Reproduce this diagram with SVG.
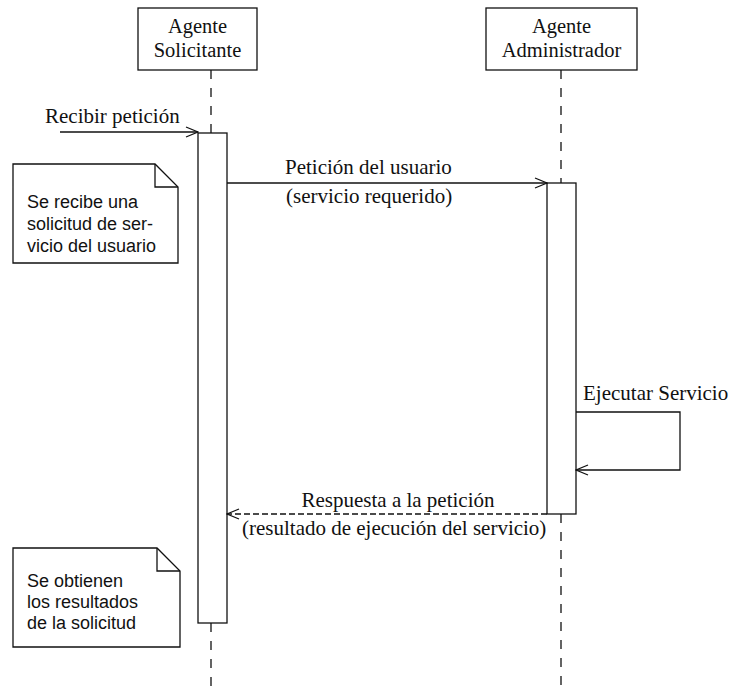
<svg xmlns="http://www.w3.org/2000/svg" width="731" height="689" viewBox="0 0 731 689">
  <style>
    .box { fill: #ffffff; stroke: #111111; stroke-width: 1.3; }
    .life { fill: none; stroke: #111111; stroke-width: 1.3; stroke-dasharray: 9 9; }
    .msg { fill: none; stroke: #111111; stroke-width: 1.3; }
    .reply { fill: none; stroke: #111111; stroke-width: 1.3; stroke-dasharray: 6 3; }
    .serif { font-family: "Liberation Serif", "Times New Roman", serif; font-size: 20.5px; fill: #111111; }
    .label { font-family: "Liberation Serif", "Times New Roman", serif; font-size: 21px; fill: #111111; }
    .sans { font-family: "Liberation Sans", Arial, sans-serif; font-size: 18px; fill: #111111; }
  </style>
  <defs>
    <marker id="open" markerWidth="14" markerHeight="12" refX="13" refY="6" orient="auto" markerUnits="userSpaceOnUse">
      <path d="M1,1 L13,6 L1,11" fill="none" stroke="#111111" stroke-width="1.3"/>
    </marker>
  </defs>

  <!-- lifelines -->
  <g id="lifelines">
    <path class="life" d="M211,70 V133 M211,623 V689"/>
    <path class="life" d="M561,70 V183 M561,514 V689"/>
  </g>

  <g id="agente-solicitante">
    <rect class="box" x="138" y="8" width="119" height="62"/>
    <text class="serif" x="197.5" y="33" text-anchor="middle">Agente</text>
    <text class="serif" x="197.5" y="57" text-anchor="middle">Solicitante</text>
  </g>

  <g id="agente-administrador">
    <rect class="box" x="486" y="8" width="151" height="62"/>
    <text class="serif" x="561.5" y="33" text-anchor="middle">Agente</text>
    <text class="serif" x="561.5" y="57" text-anchor="middle">Administrador</text>
  </g>

  <g id="activacion-solicitante">
    <rect class="box" x="198" y="133" width="29" height="490"/>
  </g>

  <g id="activacion-administrador">
    <rect class="box" x="547" y="183" width="29" height="331"/>
  </g>

  <g id="nota-recibe">
    <path class="box" d="M13,164 H155 L178,187 V263 H13 Z"/>
    <path class="msg" d="M155,164 V187 H178"/>
    <text class="sans" x="27" y="208">Se recibe una</text>
    <text class="sans" x="27" y="230">solicitud de ser-</text>
    <text class="sans" x="27" y="252">vicio del usuario</text>
  </g>

  <g id="nota-obtienen">
    <path class="box" d="M13,548 H157 L180,571 V647 H13 Z"/>
    <path class="msg" d="M157,548 V571 H180"/>
    <text class="sans" x="27" y="587">Se obtienen</text>
    <text class="sans" x="27" y="608">los resultados</text>
    <text class="sans" x="27" y="629">de la solicitud</text>
  </g>

  <!-- messages -->
  <g id="connectors">
    <path class="msg" d="M60,132 H198" marker-end="url(#open)"/>
    <path class="msg" d="M227,183 H547" marker-end="url(#open)"/>
    <path class="msg" d="M576,412 H680 V470 H576" marker-end="url(#open)"/>
    <path class="reply" d="M547,514 H227" marker-end="url(#open)"/>
  </g>

  <g id="labels">
    <text class="label" x="45" y="123">Recibir petición</text>
    <text class="label" x="285" y="174">Petición del usuario</text>
    <text class="label" x="286" y="203">(servicio requerido)</text>
    <text class="label" x="583" y="400">Ejecutar Servicio</text>
    <text class="label" x="398" y="507" text-anchor="middle">Respuesta a la petición</text>
    <text class="label" x="242" y="535">(resultado de ejecución del servicio)</text>
  </g>
</svg>
